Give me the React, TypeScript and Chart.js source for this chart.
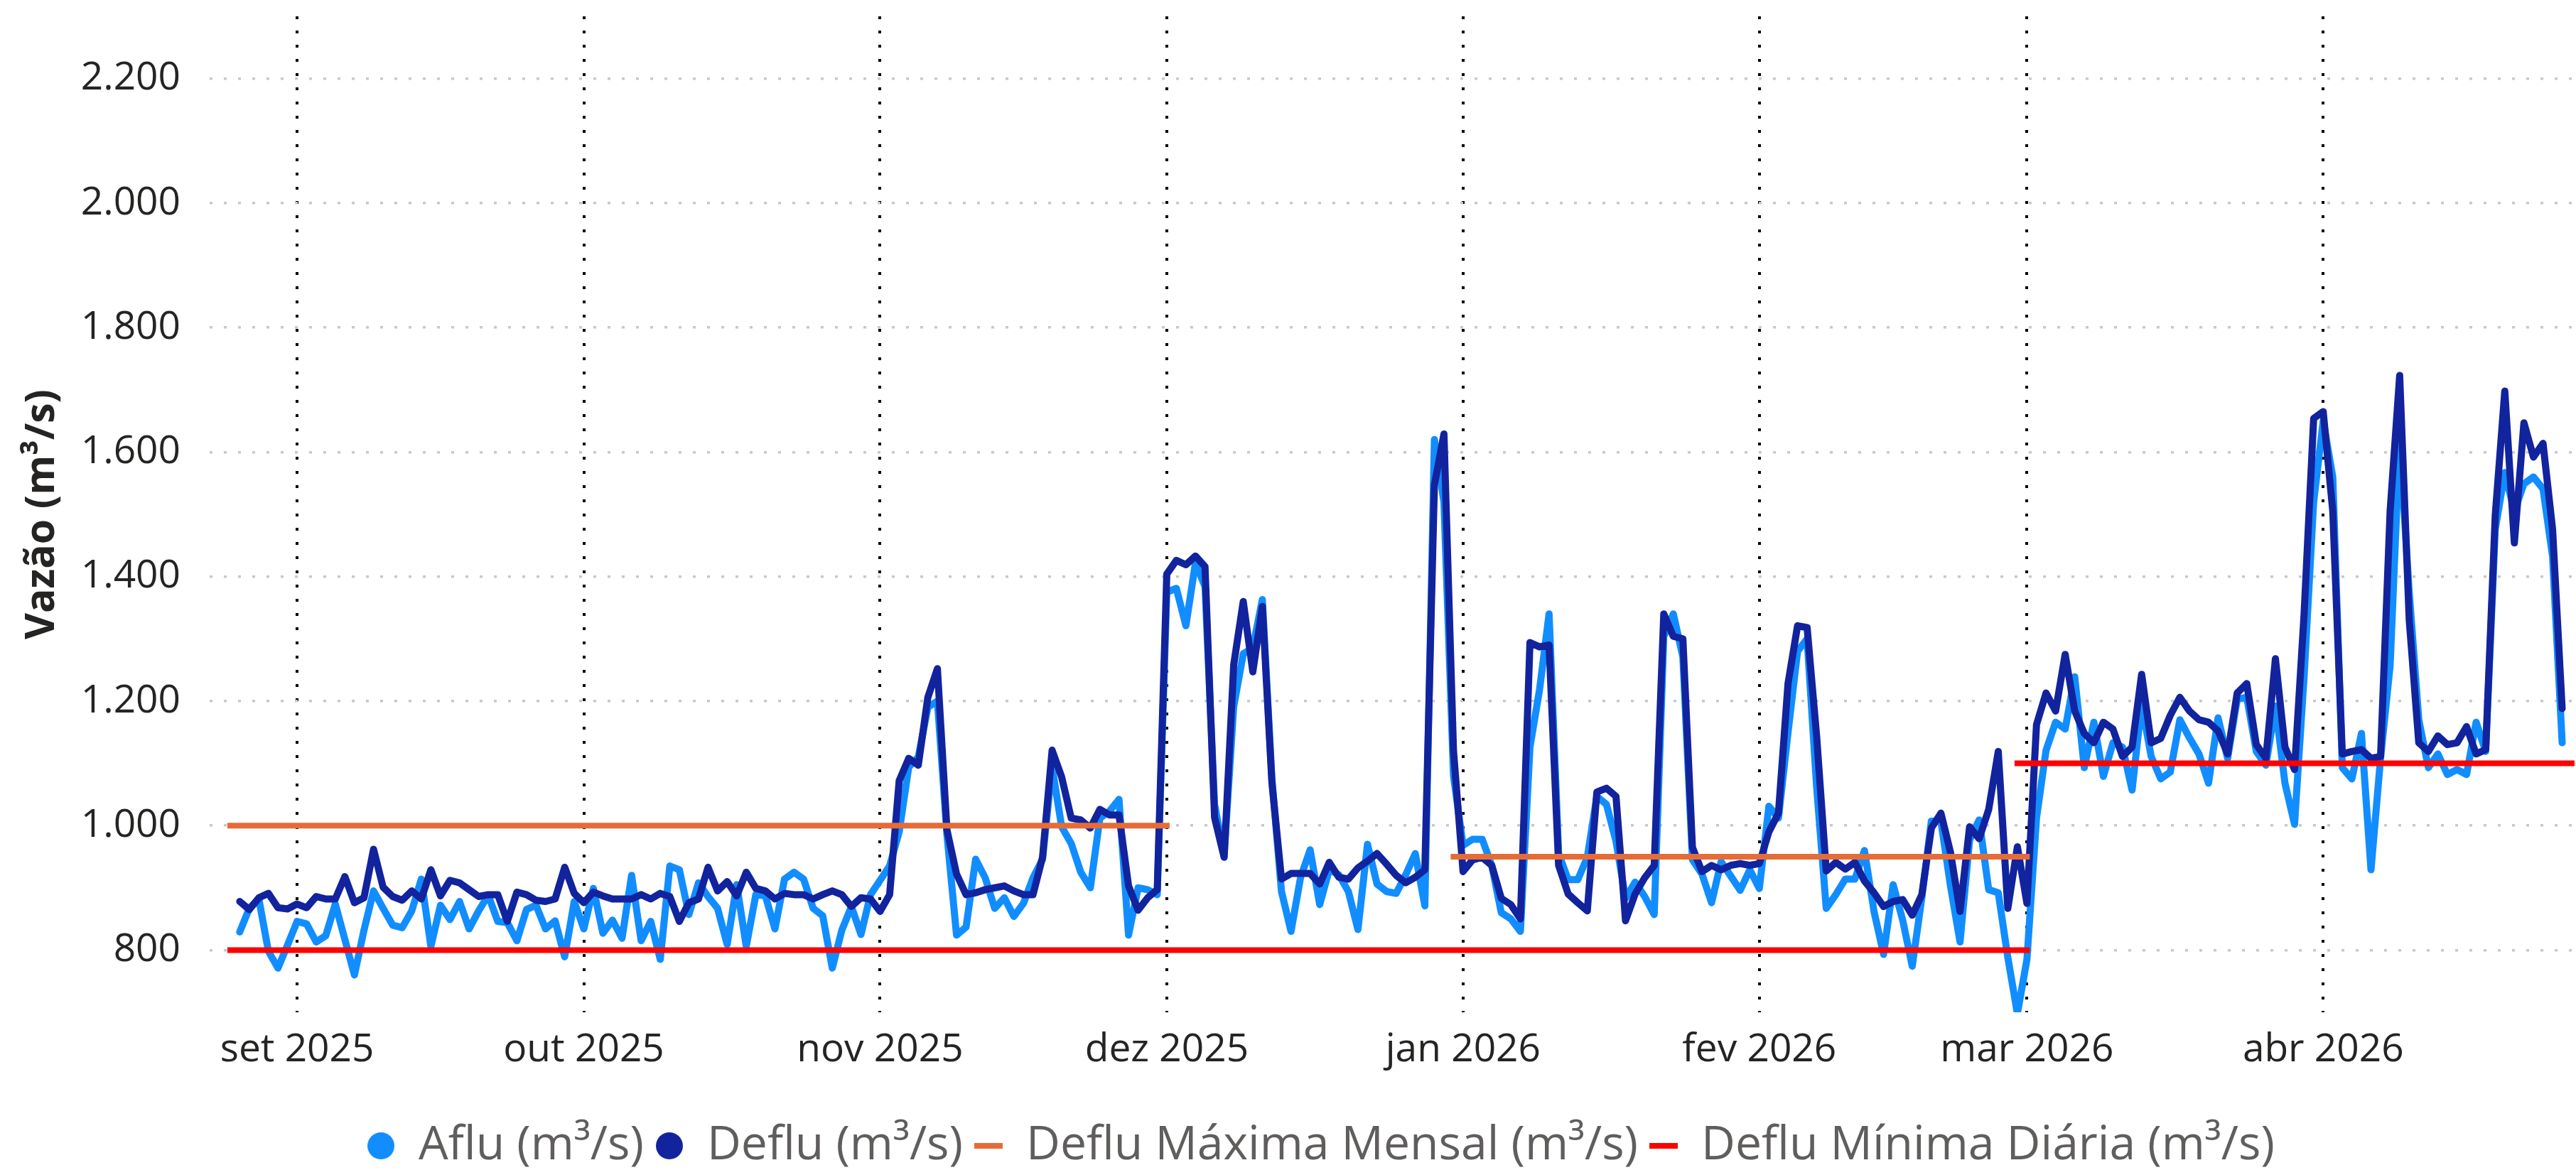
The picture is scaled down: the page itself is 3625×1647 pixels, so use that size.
import React, { useEffect, useRef } from 'react';
import { Chart, registerables } from 'chart.js';

Chart.register(...registerables);

// Days are counted from 1 set 2025 (day 0). First daily value = 26 ago 2025.
const FIRST_DAY = -6;

const afluValues = [
  829, 867, 882, 798, 771, 808,
  846, 842, 813, 823, 874, 817, 760, 832, 895, 867, 840, 836, 863, 914, 806, 872, 849, 878, 834, 863, 888, 846, 844, 815, 865, 872, 834, 847, 789, 878,
  834, 899, 827, 848, 819, 920, 815, 846, 785, 935, 929, 857, 908, 886, 867, 809, 905, 806, 889, 887, 834, 914, 925, 914, 867, 855, 771, 832, 870, 825, 889,
  912, 935, 990, 1094, 1110, 1190, 1200, 985, 824, 837, 946, 916, 867, 884, 854, 875, 916, 946, 1094, 998, 971, 925, 900, 1012, 1023, 1042, 824, 900, 897, 889,
  1375, 1381, 1321, 1422, 1384, 1034, 952, 1191, 1276, 1285, 1363, 1075, 894, 830, 917, 961, 873, 929, 921, 894, 833, 970, 906, 894, 891, 921, 955, 871, 1620, 1520, 1080,
  968, 978, 978, 936, 860, 850, 830, 1126, 1218, 1340, 955, 913, 913, 949, 1047, 1034, 975, 883, 909, 886, 857, 1304, 1340, 1271, 945, 922, 876, 942, 919, 896, 929,
  899, 1031, 1012, 1149, 1280, 1300, 1061, 867, 889, 914, 914, 960, 862, 793, 905, 848, 774, 884, 1007, 1007, 903, 813, 977, 1009, 897, 892, 788, 698,
  785, 1012, 1121, 1166, 1155, 1239, 1093, 1166, 1079, 1133, 1126, 1057, 1195, 1111, 1075, 1086, 1170, 1141, 1115, 1068, 1173, 1108, 1203, 1206, 1119, 1097, 1192, 1068, 1002, 1240, 1520,
  1650, 1560, 1093, 1075, 1148, 929, 1108, 1257, 1620, 1374, 1170, 1093, 1115, 1082, 1090, 1082, 1166, 1119, 1476, 1567, 1505, 1549, 1560, 1541, 1432, 1133,
];

const defluValues = [
  878, 865, 884, 891, 868, 866,
  874, 868, 886, 882, 882, 918, 876, 884, 962, 901, 886, 880, 895, 882, 929, 887, 912, 908, 897, 886, 889, 889, 846, 893, 889, 880, 878, 882, 933, 891,
  876, 893, 887, 882, 882, 882, 889, 882, 891, 886, 846, 876, 882, 933, 895, 910, 887, 925, 899, 895, 882, 891, 889, 889, 882, 889, 895, 889, 870, 884, 882,
  862, 889, 1072, 1108, 1097, 1206, 1252, 993, 922, 889, 892, 897, 900, 903, 895, 889, 889, 949, 1121, 1078, 1012, 1009, 996, 1026, 1017, 1017, 903, 864, 884, 897,
  1404, 1426, 1419, 1433, 1416, 1013, 949, 1258, 1360, 1247, 1352, 1069, 914, 923, 923, 923, 906, 941, 917, 914, 932, 943, 955, 938, 920, 908, 917, 929, 1547, 1629, 1120,
  926, 945, 949, 936, 883, 873, 850, 1294, 1287, 1290, 936, 890, 876, 863, 1054, 1060, 1047, 847, 890, 916, 936, 1340, 1304, 1300, 965, 926, 936, 929, 936, 939, 936,
  939, 990, 1020, 1228, 1321, 1318, 1143, 927, 941, 930, 941, 911, 892, 870, 878, 881, 856, 889, 996, 1020, 957, 862, 998, 979, 1026, 1119, 867, 966,
  875, 1162, 1213, 1184, 1275, 1184, 1148, 1133, 1166, 1155, 1111, 1126, 1243, 1133, 1140, 1177, 1206, 1184, 1170, 1166, 1152, 1115, 1213, 1228, 1130, 1108, 1268, 1126, 1090, 1340, 1654,
  1665, 1505, 1115, 1119, 1122, 1108, 1111, 1505, 1723, 1330, 1133, 1119, 1144, 1130, 1133, 1159, 1115, 1122, 1498, 1698, 1454, 1647, 1592, 1614, 1476, 1188,
];

// Monthly reference lines (days from 1 set 2025)
const maxMensalSegments = [
  { start: -7, end: 91, value: 1000 },
  { start: 121, end: 181, value: 950 },
];
const minDiariaSegments = [
  { start: -7, end: 181, value: 800 },
  { start: 180, end: 238, value: 1100 },
];

const monthTickDays = [0, 30, 61, 91, 122, 153, 181, 212];
const monthLabels = ['set 2025', 'out 2025', 'nov 2025', 'dez 2025', 'jan 2026', 'fev 2026', 'mar 2026', 'abr 2026'];
const yTickValues = [800, 1000, 1200, 1400, 1600, 1800, 2000, 2200];

const seriesNames = ['Aflu (m³/s)', 'Deflu (m³/s)', 'Deflu Máxima Mensal (m³/s)', 'Deflu Mínima Diária (m³/s)'];
const seriesColors = ['#118DFF', '#12239E', '#E66C37', '#FF0000'];

const FONT = "'Segoe UI', 'Open Sans', sans-serif";
const LEFT_PAD = 92;

function formatThousands(v: number): string {
  if (v >= 1000) {
    return `${Math.floor(v / 1000)}.${String(v % 1000).padStart(3, '0')}`;
  }
  return String(v);
}

function circleMarker(color: string, d: number): HTMLCanvasElement {
  const c = document.createElement('canvas');
  c.width = d;
  c.height = d;
  const g = c.getContext('2d')!;
  g.fillStyle = color;
  g.beginPath();
  g.arc(d / 2, d / 2, d / 2, 0, Math.PI * 2);
  g.fill();
  return c;
}

function dashMarker(color: string, w: number, h: number): HTMLCanvasElement {
  const c = document.createElement('canvas');
  c.width = w;
  c.height = h;
  const g = c.getContext('2d')!;
  g.fillStyle = color;
  g.fillRect(0, 0, w, h);
  return c;
}

function segmentsToPoints(segs: { start: number; end: number; value: number }[]) {
  const pts: { x: number; y: number | null }[] = [];
  segs.forEach((s, i) => {
    if (i > 0) pts.push({ x: (segs[i - 1].end + s.start) / 2, y: null });
    pts.push({ x: s.start, y: s.value });
    pts.push({ x: s.end, y: s.value });
  });
  return pts;
}

export default function App() {
  const canvasRef = useRef<HTMLCanvasElement | null>(null);

  useEffect(() => {
    if (!canvasRef.current) return;
    Chart.defaults.font.family = FONT;

    const markers = [
      circleMarker(seriesColors[0], 38),
      circleMarker(seriesColors[1], 38),
      dashMarker(seriesColors[2], 40, 8),
      dashMarker(seriesColors[3], 40, 8),
    ];

    const lineBase = {
      pointRadius: 0,
      pointHoverRadius: 0,
      tension: 0,
      fill: false,
      spanGaps: false,
    };

    const chart = new Chart(canvasRef.current, {
      type: 'line',
      data: {
        datasets: [
          {
            ...lineBase,
            label: seriesNames[0],
            data: afluValues.map((y, i) => ({ x: FIRST_DAY + i, y })),
            borderColor: seriesColors[0],
            backgroundColor: seriesColors[0],
            borderWidth: 10,
            borderJoinStyle: 'round',
            borderCapStyle: 'round',
            order: 5,
          },
          {
            ...lineBase,
            label: seriesNames[1],
            data: defluValues.map((y, i) => ({ x: FIRST_DAY + i, y })),
            borderColor: seriesColors[1],
            backgroundColor: seriesColors[1],
            borderWidth: 10,
            borderJoinStyle: 'round',
            borderCapStyle: 'round',
            order: 4,
          },
          {
            ...lineBase,
            label: seriesNames[2],
            data: segmentsToPoints(maxMensalSegments),
            borderColor: seriesColors[2],
            backgroundColor: seriesColors[2],
            borderWidth: 8,
            borderCapStyle: 'square',
            order: 3,
          },
          {
            ...lineBase,
            label: seriesNames[3],
            data: segmentsToPoints([minDiariaSegments[0]]),
            borderColor: seriesColors[3],
            backgroundColor: seriesColors[3],
            borderWidth: 8,
            borderCapStyle: 'square',
            order: 2,
          },
          {
            ...lineBase,
            label: seriesNames[3] + ' ',
            data: segmentsToPoints([minDiariaSegments[1]]),
            borderColor: seriesColors[3],
            backgroundColor: seriesColors[3],
            borderWidth: 8,
            borderCapStyle: 'square',
            order: 1,
          },
        ],
      },
      options: {
        animation: false,
        responsive: true,
        maintainAspectRatio: false,
        events: [],
        layout: { padding: { top: 23, right: 0, bottom: -9, left: LEFT_PAD } },
        plugins: {
          tooltip: { enabled: false },
          title: { display: false },
          legend: {
            display: true,
            position: 'bottom',
            align: 'center',
            labels: {
              usePointStyle: true,
              boxWidth: 40,
              boxHeight: 40,
              padding: 16,
              color: '#605E5C',
              font: { family: FONT, size: 66 },
              generateLabels: () =>
                seriesNames.map((text, i) => ({
                  text,
                  pointStyle: markers[i],
                  fillStyle: seriesColors[i],
                  strokeStyle: seriesColors[i],
                  lineWidth: 0,
                  hidden: false,
                  datasetIndex: i,
                  fontColor: '#605E5C',
                })),
            },
          },
        },
        scales: {
          x: {
            type: 'linear',
            min: -9.15,
            max: 238.45,
            afterBuildTicks: (axis: any) => {
              axis.ticks = monthTickDays.map((v) => ({ value: v }));
            },
            afterFit: (axis: any) => {
              axis.height = 139;
              axis.paddingLeft = 0;
              axis.paddingRight = 0;
            },
            ticks: {
              autoSkip: false,
              maxRotation: 0,
              minRotation: 0,
              padding: 20,
              color: '#252423',
              font: { family: FONT, size: 55 },
              callback: (v: any) => {
                const idx = monthTickDays.indexOf(Number(v));
                return idx >= 0 ? monthLabels[idx] : '';
              },
            },
            grid: { color: '#000000', lineWidth: 4, drawTicks: false },
            border: { display: false, dash: [4, 16] },
          },
          y: {
            type: 'linear',
            min: 700,
            max: 2300,
            afterBuildTicks: (axis: any) => {
              axis.ticks = yTickValues.map((v) => ({ value: v }));
            },
            afterFit: (axis: any) => {
              axis.width = 295 - LEFT_PAD;
              axis.paddingTop = 0;
              axis.paddingBottom = 0;
            },
            ticks: {
              padding: 41,
              color: '#252423',
              font: { family: FONT, size: 55 },
              callback: (v: any) => formatThousands(Number(v)),
            },
            grid: { color: '#C8C8C8', lineWidth: 3.5, drawTicks: false },
            border: { display: false, dash: [4, 16] },
            title: {
              display: true,
              text: 'Vazão (m³/s)',
              color: '#252423',
              font: { family: FONT, size: 57, weight: 'bold' },
              padding: { top: 26 - LEFT_PAD, bottom: 0 },
            },
          },
        },
      },
    } as any);

    return () => chart.destroy();
  }, []);

  return (
    <div style={{ position: 'absolute', left: 0, top: 0, width: 3625, height: 1647, background: '#fff' }}>
      <canvas ref={canvasRef} />
    </div>
  );
}
